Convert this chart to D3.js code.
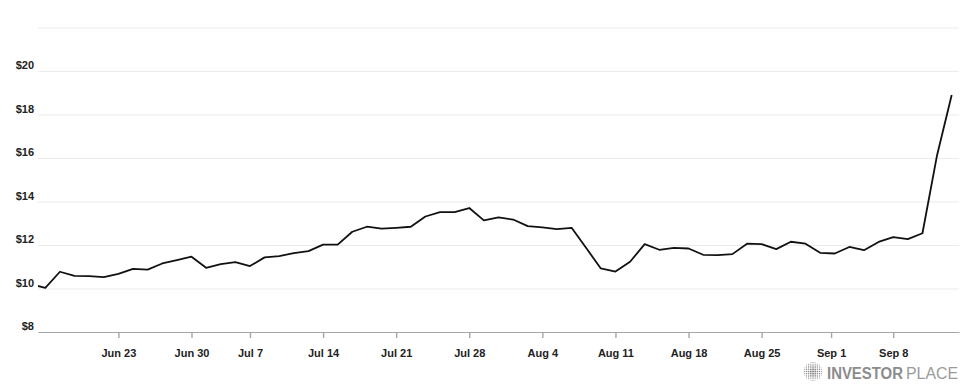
<!DOCTYPE html>
<html>
<head>
<meta charset="utf-8">
<script src="https://cdn.jsdelivr.net/npm/d3@7"></script>
<style>
  html, body { margin: 0; padding: 0; background: #fff; }
  svg { display: block; font-family: "Liberation Sans", Arial, Helvetica, sans-serif; }
</style>
</head>
<body>
<svg id="chart" width="975" height="390"></svg>
<script>
// trading days (weekends + holidays skipped) and closing prices
var dates = [
  "2025-06-12", "2025-06-13", "2025-06-16", "2025-06-17", "2025-06-18", "2025-06-20",
  "2025-06-23", "2025-06-24", "2025-06-25", "2025-06-26", "2025-06-27",
  "2025-06-30", "2025-07-01", "2025-07-02", "2025-07-03",
  "2025-07-07", "2025-07-08", "2025-07-09", "2025-07-10", "2025-07-11",
  "2025-07-14", "2025-07-15", "2025-07-16", "2025-07-17", "2025-07-18",
  "2025-07-21", "2025-07-22", "2025-07-23", "2025-07-24", "2025-07-25",
  "2025-07-28", "2025-07-29", "2025-07-30", "2025-07-31", "2025-08-01",
  "2025-08-04", "2025-08-05", "2025-08-06", "2025-08-07", "2025-08-08",
  "2025-08-11", "2025-08-12", "2025-08-13", "2025-08-14", "2025-08-15",
  "2025-08-18", "2025-08-19", "2025-08-20", "2025-08-21", "2025-08-22",
  "2025-08-25", "2025-08-26", "2025-08-27", "2025-08-28", "2025-08-29",
  "2025-09-02", "2025-09-03", "2025-09-04", "2025-09-05",
  "2025-09-08", "2025-09-09", "2025-09-10", "2025-09-11", "2025-09-12"
];

var prices = [
  10.20, 10.03, 10.77, 10.58, 10.57, 10.52,
  10.67, 10.90, 10.87, 11.15, 11.30,
  11.46, 10.95, 11.12, 11.21,
  11.03, 11.43, 11.49, 11.63, 11.72,
  12.02, 12.02, 12.61, 12.84, 12.75,
  12.79, 12.84, 13.31, 13.51, 13.51,
  13.70, 13.13, 13.27, 13.17, 12.87,
  12.81, 12.73, 12.79, 11.86, 10.92,
  10.78, 11.23, 12.04, 11.78, 11.87,
  11.84, 11.55, 11.53, 11.58, 12.06,
  12.04, 11.81, 12.15, 12.06, 11.64,
  11.61, 11.91, 11.76, 12.14,
  12.36, 12.27, 12.54, 16.13, 18.90
];

var xTickDates = ["2025-06-23", "2025-06-30", "2025-07-07", "2025-07-14", "2025-07-21", "2025-07-28",
                  "2025-08-04", "2025-08-11", "2025-08-18", "2025-08-25", "2025-09-01", "2025-09-08"];
var xTickLabels = ["Jun 23", "Jun 30", "Jul 7", "Jul 14", "Jul 21", "Jul 28",
                   "Aug 4", "Aug 11", "Aug 18", "Aug 25", "Sep 1", "Sep 8"];

var yGridValues = [8, 10, 12, 14, 16, 18, 20, 22];
var yTickLabels = ["$8", "$10", "$12", "$14", "$16", "$18", "$20", ""];

var parseDay = d3.utcParse("%Y-%m-%d");

function ChartDrawer(svg) {
  this.svg = svg;
  this.left = 38;
  this.right = 959;
  this.top = 27.5;
  this.bottom = 332;
  this.times = dates.map(function(d) { return parseDay(d).getTime(); });
}

// a calendar date becomes a (fractional) trading-day index, so holidays get an in-between slot
ChartDrawer.prototype.dayIndex = function(dateStr) {
  var t = parseDay(dateStr).getTime(), times = this.times;
  var i = d3.bisectRight(times, t) - 1;
  if (i < 0) return 0;
  if (i >= times.length - 1) return times.length - 1;
  return i + (t - times[i]) / (times[i + 1] - times[i]);
}

ChartDrawer.prototype.buildScales = function() {
  this.x = d3.scaleLinear().domain([0.5, dates.length - 0.5]).range([this.left, this.right]);
  this.y = d3.scaleLinear().domain([8, 22]).range([this.bottom, this.top]);
}

ChartDrawer.prototype.drawGrid = function() {
  var yAxis = d3.axisLeft(this.y)
    .tickValues(yGridValues)
    .tickSize(-(this.right - this.left))
    .tickPadding(4)
    .tickFormat(function(d, i) { return yTickLabels[i]; });
  var g = this.svg.append("g").attr("transform", "translate(" + this.left + ",0)").call(yAxis);
  g.select(".domain").remove();
  g.selectAll(".tick line").attr("stroke", "#ebebeb").attr("stroke-width", 1);
  g.selectAll(".tick text")
    .attr("font-family", "Liberation Sans, Arial, sans-serif")
    .attr("font-size", 11).attr("font-weight", "bold").attr("fill", "#222")
    .attr("dy", "-0.2em");
  return g;
}

ChartDrawer.prototype.drawXAxis = function() {
  var self = this;
  var tickPos = xTickDates.map(function(d) { return self.dayIndex(d); });
  var xAxis = d3.axisBottom(this.x)
    .tickValues(tickPos)
    .tickSize(6)
    .tickSizeOuter(0)
    .tickPadding(11)
    .tickFormat(function(d, i) { return xTickLabels[i]; });
  var g = this.svg.append("g").attr("transform", "translate(0," + this.bottom + ")").call(xAxis);
  g.select(".domain").attr("stroke", "#a6a6a6").attr("stroke-width", 1.2);
  g.selectAll(".tick line").attr("stroke", "#a6a6a6").attr("stroke-width", 1.4);
  g.selectAll(".tick text")
    .attr("font-family", "Liberation Sans, Arial, sans-serif")
    .attr("font-size", 11).attr("font-weight", "bold").attr("fill", "#222");
  return g;
}

ChartDrawer.prototype.drawLine = function() {
  var self = this;
  this.svg.append("clipPath").attr("id", "plot-clip")
    .append("rect").attr("x", this.left).attr("y", 0)
    .attr("width", this.right - this.left).attr("height", this.bottom);
  var line = d3.line()
    .x(function(d, i) { return self.x(i); })
    .y(function(d) { return self.y(d); });
  return this.svg.append("path").datum(prices)
    .attr("clip-path", "url(#plot-clip)")
    .attr("fill", "none").attr("stroke", "#111").attr("stroke-width", 1.8)
    .attr("stroke-linejoin", "round")
    .attr("d", line);
}

// squeeze a word horizontally to the given width (keeps its real box inside that width)
ChartDrawer.prototype.drawSqueezedText = function(element, word, x, y, width, weight, fill) {
  var text = element.append("text")
    .attr("font-family", "Liberation Sans, Arial, sans-serif").attr("font-size", 17)
    .attr("font-weight", weight).attr("fill", fill).text(word);
  var natural = text.node().getComputedTextLength();
  text.attr("transform", "translate(" + x + "," + y + ") scale(" + (width / natural) + ",1)");
  return text;
}

ChartDrawer.prototype.drawWatermark = function() {
  var g = this.svg.append("g").attr("fill", "#8c8c8c");
  var cx = 813, cy = 371.5, r = 9.5;
  g.append("clipPath").attr("id", "globe-clip")
    .append("circle").attr("cx", cx).attr("cy", cy).attr("r", r);
  var dots = g.append("g").attr("clip-path", "url(#globe-clip)");
  d3.range(-4, 5).forEach(function(row) {
    d3.range(-4, 5).forEach(function(col) {
      var dx = col * 2.2, dy = row * 2.2;
      var rr = 1.05 - Math.sqrt(dx * dx + dy * dy) / r * 0.45;
      dots.append("circle").attr("cx", cx + dx).attr("cy", cy + dy).attr("r", Math.max(rr, 0.35));
    });
  });
  this.drawSqueezedText(g, "INVESTOR", 827, 378.5, 76, "bold", "#8c8c8c");
  this.drawSqueezedText(g, "PLACE", 906, 378.5, 52, "normal", "#9a9a9a");
  return g;
}

var drawer = new ChartDrawer(d3.select("#chart"));
drawer.buildScales();
drawer.drawGrid();
drawer.drawXAxis();
drawer.drawLine();
drawer.drawWatermark();
</script>
</body>
</html>
